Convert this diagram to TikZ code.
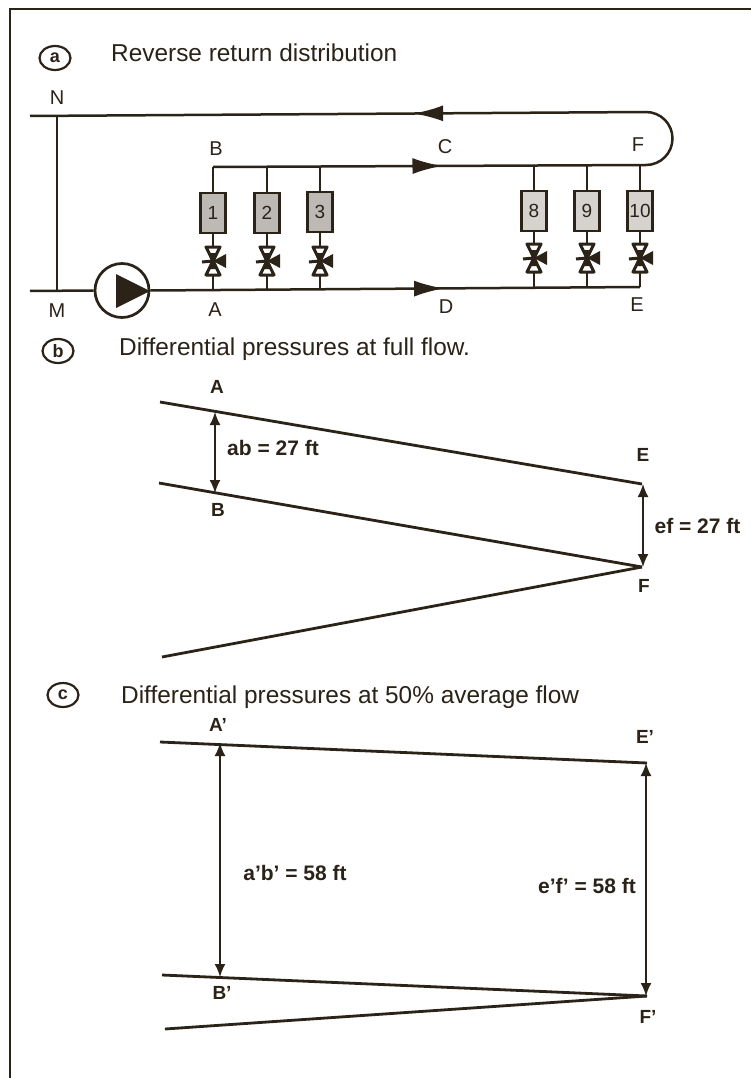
\documentclass[tikz,border=0pt]{standalone}
\usepackage{fontspec}
\setmainfont{Liberation Sans}
\usetikzlibrary{arrows.meta,decorations.markings,shapes.geometric}
\definecolor{ink}{HTML}{2B2218}
\definecolor{unitgray}{HTML}{BDBAB6}
\definecolor{unitlight}{HTML}{D6D3CF}
\tikzset{
  pipe/.style={draw=ink,line width=2.5pt},
  thin pipe/.style={draw=ink,line width=2.2pt},
  graphline/.style={draw=ink,line width=2.8pt},
  dim/.style={draw=ink,line width=1.8pt,{Latex[length=13pt,width=11pt]}-{Latex[length=13pt,width=11pt]}},
  flowmark/.style={postaction={decorate},decoration={markings,mark=at position #1 with {\arrow{Latex[length=30pt,width=16pt]}}}},
  unitbox/.style={draw=ink,line width=2.6pt,minimum width=25pt,minimum height=40pt,inner sep=0pt,text=ink,font=\fontsize{19}{20}\selectfont},
  lab/.style={text=ink,inner sep=0pt,font=\fontsize{20}{22}\selectfont},
  blab/.style={text=ink,inner sep=0pt,font=\bfseries\fontsize{19}{22}\selectfont},
  title/.style={text=ink,inner sep=0pt,anchor=base west,font=\fontsize{24.4}{27}\selectfont},
  dimlab/.style={text=ink,inner sep=0pt,font=\bfseries\fontsize{21}{24}\selectfont},
  tagring/.style={draw=ink,line width=2.2pt,ellipse,minimum width=31pt,minimum height=24pt,inner sep=0pt,text=ink,font=\bfseries\fontsize{18}{20}\selectfont},
  valvemark/.pic={
    \draw[ink,line width=3pt,fill=white,line join=round] (-7,-14) -- (7,-14) -- (-7,14) -- (7,14) -- cycle;
    \fill[ink] (-2,0) -- (2,0) -- (5,8) -- (-5,8) -- cycle;
    \fill[ink] (-2,0) -- (2,0) -- (5,-8) -- (-5,-8) -- cycle;
    \fill[ink] (0,0) -- (13,-7) -- (13,7) -- cycle;
    \draw[ink,line width=3pt] (-11,1) -- (0,0);
  }
}
\begin{document}
\begin{tikzpicture}[x=1pt,y=-1pt]
\useasboundingbox (0,0) rectangle (751,1078);
\fill[white] (0,0) rectangle (751,1078);
% frame
\coordinate (frameBL) at (10,1078);
\coordinate (frameTL) at (10,9);
\coordinate (frameTR) at (751,9);
\draw[ink,line width=2.5pt] (frameBL) -- (frameTL) -- (frameTR);

% part a
\node[tagring] (taga) at (55,58) {a};
\node[title] (titlea) at (111,62) {Reverse return distribution};
\coordinate (nleft) at (30,116);
\coordinate (njoin) at (57,116);
\coordinate (ntop) at (646,112);
\coordinate (fbend) at (646,165);
\coordinate (bstart) at (213,167);
\coordinate (mleft) at (30,291);
\coordinate (mjoin) at (57,291);
\coordinate (eend) at (640,287);
\draw[pipe,flowmark=0.378] (ntop) -- (nleft);
\draw[pipe] (ntop) arc[start angle=-90,end angle=90,radius=26.5];
\draw[pipe,flowmark=0.53] (bstart) -- (fbend);
\draw[pipe] (njoin) -- (mjoin);
\node[circle,draw=ink,line width=2.7pt,fill=white,minimum size=54pt,inner sep=0pt] (pump) at (122,290.5) {};
\draw[pipe] (mleft) -- (pump.west);
\draw[pipe,flowmark=0.60] (pump.east) -- (eend);
\fill[ink] (116,274) -- (150,291) -- (116,308) -- cycle;
\foreach \id/\txt/\x/\ytop/\ybox/\yval/\ybot/\shade in {
  one/1/213/167/213/261/290/unitgray,
  two/2/267/167/213/261/290/unitgray,
  three/3/320/167/212/261/290/unitgray,
  eight/8/534/166/211/258/288/unitlight,
  nine/9/587/166/211/258/288/unitlight,
  ten/10/640/165/211/258/287/unitlight}{
  \coordinate (top\id) at (\x,\ytop);
  \coordinate (bot\id) at (\x,\ybot);
  \node[unitbox,fill=\shade] (unit\id) at (\x,\ybox) {\txt};
  \draw[thin pipe] (top\id) -- (unit\id.north);
  \draw[thin pipe] (unit\id.south) -- (bot\id);
  \pic at (\x,\yval) {valvemark};
}
\node[lab] (laN) at (57,98) {N};
\node[lab] (laB) at (216,149) {B};
\node[lab] (laC) at (445,147) {C};
\node[lab] (laF) at (638,145) {F};
\node[lab] (laM) at (57,311) {M};
\node[lab] (laA) at (215,310) {A};
\node[lab] (laD) at (446,307) {D};
\node[lab] (laE) at (637,305) {E};

% part b
\node[tagring] (tagb) at (58,351) {b};
\node[title] (titleb) at (119,355) {Differential pressures at full flow.};
\coordinate (bA) at (160,402);
\coordinate (bE) at (642,484);
\coordinate (bB) at (159,483);
\coordinate (bF) at (642,567);
\coordinate (bL) at (162,657);
\draw[graphline] (bA) -- (bE);
\draw[graphline] (bB) -- (bF);
\draw[graphline] (bL) -- (bF);
\coordinate (abtop) at (215,412);
\coordinate (abbot) at (215,493);
\coordinate (eftop) at (643,484);
\coordinate (efbot) at (643,567);
\draw[dim] (abtop) -- (abbot);
\draw[dim] (eftop) -- (efbot);
\node[blab] (lbA) at (217,387) {A};
\node[blab] (lbB) at (218,510) {B};
\node[blab] (lbE) at (643,455) {E};
\node[blab] (lbF) at (644,586) {F};
\node[dimlab] (dimab) at (273,448) {ab = 27 ft};
\node[dimlab] (dimef) at (697.5,526) {ef = 27 ft};

% part c
\node[tagring] (tagc) at (63,695) {c};
\node[title] (titlec) at (121,703) {Differential pressures at 50\% average flow};
\coordinate (cA) at (160,742);
\coordinate (cE) at (647,763);
\coordinate (cB) at (162,975);
\coordinate (cF) at (647,996);
\coordinate (cL) at (165,1029);
\draw[graphline] (cA) -- (cE);
\draw[graphline] (cB) -- (cF);
\draw[graphline] (cL) -- (cF);
\coordinate (apos) at (220,743);
\coordinate (bpos) at (220,977);
\coordinate (epos) at (646,763);
\coordinate (fpos) at (646,996);
\draw[dim] (apos) -- (bpos);
\draw[dim] (epos) -- (fpos);
\node[blab] (lcA) at (218,725) {A'};
\node[blab] (lcB) at (222,993) {B'};
\node[blab] (lcE) at (645,737) {E'};
\node[blab] (lcF) at (648,1017) {F'};
\node[dimlab] (dima) at (295,873) {a'b' = 58 ft};
\node[dimlab] (dime) at (587,886) {e'f' = 58 ft};
\end{tikzpicture}
\end{document}
